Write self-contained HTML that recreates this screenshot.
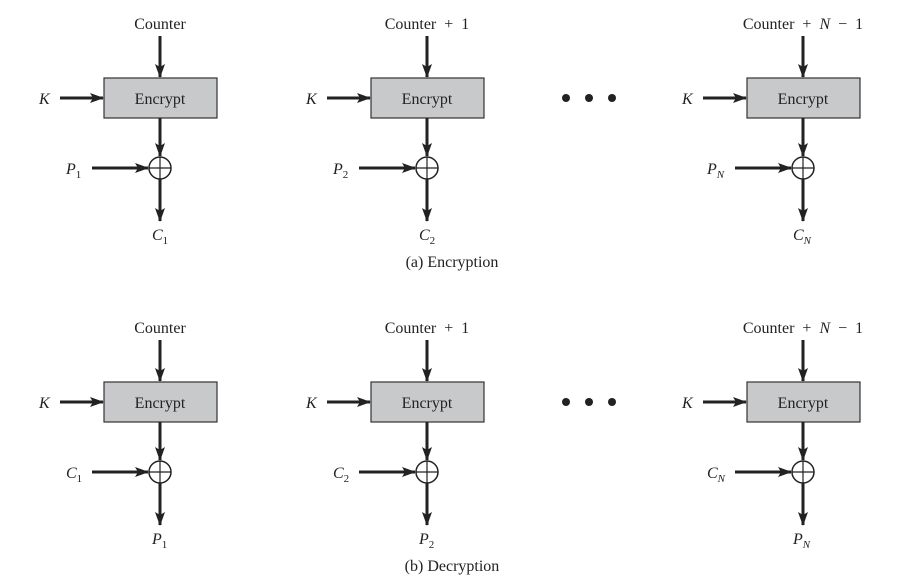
<!DOCTYPE html>
<html><head><meta charset="utf-8"><style>
html,body{margin:0;padding:0;background:#fff;}
svg text{font-family:"Liberation Serif",serif;fill:#222;}
.it{font-style:italic;}
</style></head><body>
<svg width="902" height="577" viewBox="0 0 902 577" xmlns="http://www.w3.org/2000/svg">
<defs>
<marker id="a" markerWidth="14" markerHeight="10" refX="13" refY="5" orient="auto" markerUnits="userSpaceOnUse">
<path d="M0,0 L14,5 L0,10 L3,5 Z" fill="#222"/></marker>
<g id="blk">
<line x1="0" y1="36" x2="0" y2="77" stroke="#222" stroke-width="3" marker-end="url(#a)"/>
<rect x="-56" y="78" width="113" height="40" fill="#c8c9cb" stroke="#333" stroke-width="1.2"/>
<text x="0" y="104" font-size="16" text-anchor="middle">Encrypt</text>
<line x1="-100" y1="98" x2="-57" y2="98" stroke="#222" stroke-width="3" marker-end="url(#a)"/>
<line x1="0" y1="118" x2="0" y2="156" stroke="#222" stroke-width="3" marker-end="url(#a)"/>
<circle cx="0" cy="168" r="11" fill="#fff" stroke="#222" stroke-width="1.5"/>
<line x1="-11" y1="168" x2="11" y2="168" stroke="#222" stroke-width="1.2"/>
<line x1="0" y1="157" x2="0" y2="179" stroke="#222" stroke-width="1.2"/>
<line x1="-68" y1="168" x2="-12" y2="168" stroke="#222" stroke-width="3" marker-end="url(#a)"/>
<line x1="0" y1="179" x2="0" y2="221" stroke="#222" stroke-width="3" marker-end="url(#a)"/>
</g>
</defs>
<g transform="translate(160,0)"><use href="#blk"/></g>
<g transform="translate(427,0)"><use href="#blk"/></g>
<g transform="translate(803,0)"><use href="#blk"/></g>
<g transform="translate(160,304)"><use href="#blk"/></g>
<g transform="translate(427,304)"><use href="#blk"/></g>
<g transform="translate(803,304)"><use href="#blk"/></g>

<g font-size="16">
<text x="160" y="29" text-anchor="middle">Counter</text>
<text x="427" y="29" text-anchor="middle" xml:space="preserve">Counter  +  1</text>
<text x="803" y="29" text-anchor="middle" xml:space="preserve">Counter  +  <tspan class="it">N</tspan>  −  1</text>
<text x="39" y="104" class="it">K</text>
<text x="306" y="104" class="it">K</text>
<text x="682" y="104" class="it">K</text>
<text x="66" y="174" class="it">P<tspan font-size="11" dy="4" font-style="normal">1</tspan></text>
<text x="333" y="174" class="it">P<tspan font-size="11" dy="4" font-style="normal">2</tspan></text>
<text x="707" y="174" class="it">P<tspan font-size="11" dy="4">N</tspan></text>
<text x="152" y="240" class="it">C<tspan font-size="11" dy="4" font-style="normal">1</tspan></text>
<text x="419" y="240" class="it">C<tspan font-size="11" dy="4" font-style="normal">2</tspan></text>
<text x="793" y="240" class="it">C<tspan font-size="11" dy="4">N</tspan></text>
<text x="452" y="267" text-anchor="middle">(a) Encryption</text>

<text x="160" y="333" text-anchor="middle">Counter</text>
<text x="427" y="333" text-anchor="middle" xml:space="preserve">Counter  +  1</text>
<text x="803" y="333" text-anchor="middle" xml:space="preserve">Counter  +  <tspan class="it">N</tspan>  −  1</text>
<text x="39" y="408" class="it">K</text>
<text x="306" y="408" class="it">K</text>
<text x="682" y="408" class="it">K</text>
<text x="66" y="478" class="it">C<tspan font-size="11" dy="4" font-style="normal">1</tspan></text>
<text x="333" y="478" class="it">C<tspan font-size="11" dy="4" font-style="normal">2</tspan></text>
<text x="707" y="478" class="it">C<tspan font-size="11" dy="4">N</tspan></text>
<text x="152" y="544" class="it">P<tspan font-size="11" dy="4" font-style="normal">1</tspan></text>
<text x="419" y="544" class="it">P<tspan font-size="11" dy="4" font-style="normal">2</tspan></text>
<text x="793" y="544" class="it">P<tspan font-size="11" dy="4">N</tspan></text>
<text x="452" y="571" text-anchor="middle">(b) Decryption</text>
</g>
<g fill="#222">
<circle cx="566" cy="98" r="4"/><circle cx="589" cy="98" r="4"/><circle cx="612" cy="98" r="4"/>
<circle cx="566" cy="402" r="4"/><circle cx="589" cy="402" r="4"/><circle cx="612" cy="402" r="4"/>
</g>
</svg>
</body></html>
